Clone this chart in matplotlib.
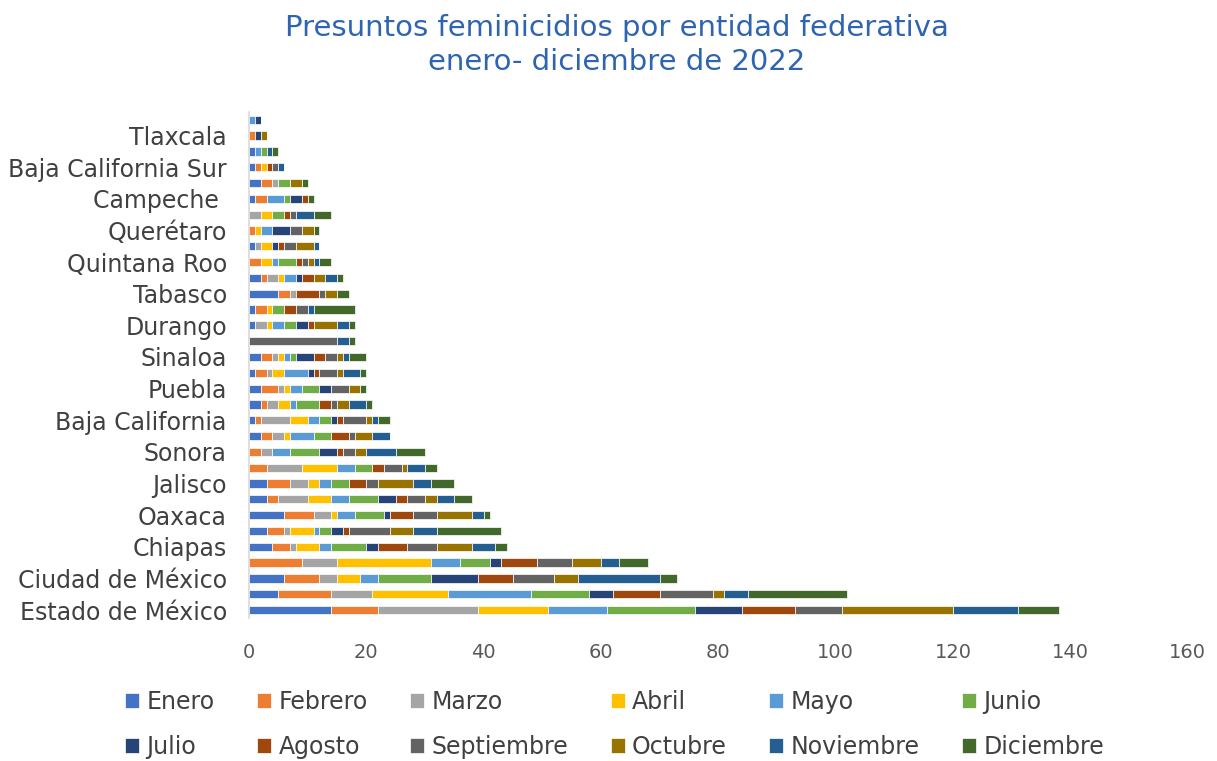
import numpy as np
import matplotlib.pyplot as plt

# states from bottom (largest) to top
estados = ["Estado de México", "Nuevo León", "Ciudad de México", "Veracruz",
           "Chiapas", "Morelos", "Oaxaca", "Guanajuato", "Jalisco", "Chihuahua",
           "Sonora", "Michoacán", "Baja California", "Guerrero", "Puebla",
           "San Luis Potosí", "Sinaloa", "Colima", "Durango", "Tamaulipas",
           "Tabasco", "Hidalgo", "Quintana Roo", "Zacatecas", "Querétaro",
           "Coahuila", "Campeche ", "Aguascalientes", "Baja California Sur",
           "Nayarit", "Tlaxcala", "Yucatán"]

meses = ["Enero", "Febrero", "Marzo", "Abril", "Mayo", "Junio", "Julio",
         "Agosto", "Septiembre", "Octubre", "Noviembre", "Diciembre"]

colores = ["#4472C4", "#ED7D31", "#A5A5A5", "#FFC000", "#5B9BD5", "#70AD47",
           "#264478", "#9E480E", "#636363", "#997300", "#255E91", "#43682B"]

# rows: one per state (same order as estados), columns: Enero..Diciembre
valores = [
    [14, 8, 17, 12, 10, 15, 8, 9, 8, 19, 11, 7],
    [5, 9, 7, 13, 14, 10, 4, 8, 9, 2, 4, 17],
    [6, 6, 3, 4, 3, 9, 8, 6, 7, 4, 14, 3],
    [0, 9, 6, 16, 5, 5, 2, 6, 6, 5, 3, 5],
    [4, 3, 1, 4, 2, 6, 2, 5, 5, 6, 4, 2],
    [3, 3, 1, 4, 1, 2, 2, 1, 7, 4, 4, 11],
    [6, 5, 3, 1, 3, 5, 1, 4, 4, 6, 2, 1],
    [3, 2, 5, 4, 3, 5, 3, 2, 3, 2, 3, 3],
    [3, 4, 3, 2, 2, 3, 0, 3, 2, 6, 3, 4],
    [0, 3, 6, 6, 3, 3, 0, 2, 3, 1, 3, 2],
    [0, 2, 2, 0, 3, 5, 3, 1, 2, 2, 5, 5],
    [2, 2, 2, 1, 4, 3, 0, 3, 1, 3, 3, 0],
    [1, 1, 5, 3, 2, 2, 1, 1, 4, 1, 1, 2],
    [2, 1, 2, 2, 1, 4, 0, 2, 1, 2, 3, 1],
    [2, 3, 1, 1, 2, 3, 2, 0, 3, 2, 0, 1],
    [1, 2, 1, 2, 4, 0, 1, 1, 3, 1, 3, 1],
    [2, 2, 1, 1, 1, 1, 3, 2, 2, 1, 1, 3],
    [0, 0, 0, 0, 0, 0, 0, 0, 15, 0, 2, 1],
    [1, 0, 2, 1, 2, 2, 2, 1, 0, 4, 2, 1],
    [1, 2, 0, 1, 0, 2, 0, 2, 2, 0, 1, 7],
    [5, 2, 1, 0, 0, 0, 0, 4, 1, 2, 0, 2],
    [2, 1, 2, 1, 2, 0, 1, 2, 0, 2, 2, 1],
    [0, 2, 0, 2, 1, 3, 0, 1, 1, 1, 1, 2],
    [1, 0, 1, 2, 0, 0, 1, 1, 2, 3, 1, 0],
    [0, 1, 0, 1, 2, 0, 3, 0, 2, 2, 0, 1],
    [0, 0, 2, 2, 0, 2, 0, 1, 1, 0, 3, 3],
    [1, 2, 0, 0, 3, 1, 2, 1, 0, 0, 0, 1],
    [2, 2, 1, 0, 0, 2, 0, 0, 0, 2, 0, 1],
    [1, 1, 0, 1, 0, 0, 0, 1, 1, 0, 1, 0],
    [1, 0, 0, 0, 1, 1, 0, 0, 0, 0, 1, 1],
    [0, 1, 0, 0, 0, 0, 1, 0, 0, 1, 0, 0],
    [0, 0, 0, 0, 1, 0, 1, 0, 0, 0, 0, 0],
]

data = np.array(valores)
y = np.arange(len(estados))

fig = plt.figure(figsize=(12.17, 7.61), dpi=100)
ax = fig.add_axes([0.2046, 0.188, 0.7714, 0.665])

left = np.zeros(len(estados))
barras = []
for i, mes in enumerate(meses):
    b = ax.barh(y, data[:, i], left=left, height=0.52, color=colores[i],
                edgecolor="white", linewidth=0.5, label=mes)
    barras.append(b)
    left += data[:, i]

ax.set_xlim(0, 160)
ax.set_ylim(-0.5, len(estados) - 0.5)
ax.set_xticks(np.arange(0, 161, 20))
ax.set_yticks(y[::2])
ax.set_yticklabels(estados[::2], fontsize=17, color="#404040")
ax.tick_params(axis="x", labelsize=14, labelcolor="#595959", length=0, pad=18)
ax.tick_params(axis="y", length=0, pad=16)
for s in ["top", "right", "bottom"]:
    ax.spines[s].set_visible(False)
ax.spines["left"].set_color("#D9D9D9")
ax.spines["left"].set_linewidth(1.2)

fig.text(0.507, 0.941, "Presuntos feminicidios por entidad federativa\nenero- diciembre de 2022",
         ha="center", va="center", fontsize=21, color="#2F64B0", linespacing=1.25)

# legend is filled column by column, so interleave to get row order
orden = [0, 6, 1, 7, 2, 8, 3, 9, 4, 10, 5, 11]
fig.legend([barras[k] for k in orden], [meses[k] for k in orden],
           loc="center", bbox_to_anchor=(0.505, 0.048), ncol=6, frameon=False,
           fontsize=17, handlelength=0.6, handleheight=0.6, handletextpad=0.3,
           columnspacing=1.8, labelspacing=0.9, labelcolor="#404040")

fig.savefig("out.png", dpi=100)
